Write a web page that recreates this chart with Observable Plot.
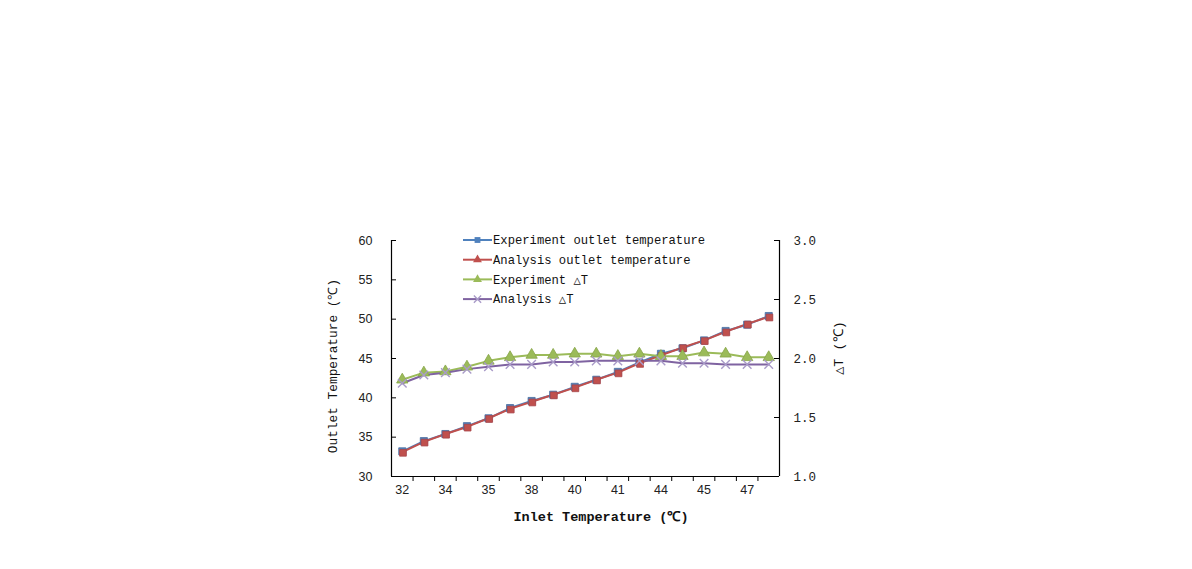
<!DOCTYPE html>
<html><head><meta charset="utf-8">
<script src="https://cdn.jsdelivr.net/npm/d3@7"></script>
<script src="https://cdn.jsdelivr.net/npm/@observablehq/plot@0.6"></script>
<style>body{margin:0;background:#fff}#chart svg{display:block}</style>
</head><body><div id="chart"></div>
<script>
// Inlet temperature tick labels (shown on every other category)
const inletTickLabels = ["32","34","35","38","40","41","44","45","47"];
// Outlet temperature (°C) – left axis
const expOutlet = [33.2,34.5,35.4,36.4,37.4,38.7,39.6,40.4,41.4,42.3,43.3,44.5,45.6,46.3,47.3,48.5,49.3,50.4];
const anaOutlet = [33.1,34.4,35.4,36.3,37.4,38.6,39.5,40.4,41.3,42.3,43.2,44.4,45.4,46.4,47.3,48.4,49.4,50.3];
// Delta T (°C) – right axis
const expDT = [1.82,1.88,1.89,1.93,1.98,2.01,2.03,2.03,2.04,2.04,2.02,2.04,2.02,2.02,2.05,2.04,2.01,2.01];
const anaDT = [1.79,1.86,1.88,1.91,1.93,1.95,1.95,1.97,1.97,1.98,1.98,1.98,1.98,1.96,1.96,1.95,1.95,1.95];
const leftTicks = [30,35,40,45,50,55,60];
const rightTicks = [1.0,1.5,2.0,2.5,3.0];
const seriesNames = ["Experiment outlet temperature","Analysis outlet temperature","Experiment △T","Analysis △T"];
const seriesColors = ["#4F81BD","#C0504D","#9BBB59","#7F63A1"];

const toY = dt => 30 + (dt - 1) * 15;
const fromY = y => (y - 30) / 15 + 1;
const rows = expOutlet.map((v, i) => ({
  i, expOutlet: v, anaOutlet: anaOutlet[i], expDT: toY(expDT[i]), anaDT: toY(anaDT[i])
}));

const sans = "'Liberation Sans', Arial, sans-serif";
const mono = "'Liberation Mono', 'DejaVu Sans Mono', monospace";

const chart = Plot.plot({
  width: 1192, height: 569,
  marginLeft: 391, marginRight: 413, marginTop: 240, marginBottom: 93,
  style: {fontFamily: sans, fontSize: "12px", color: "#222", background: "#fff"},
  x: {type: "linear", domain: [-0.5, 17.5]},
  y: {domain: [30, 60]},
  marks: [
    Plot.axisX(d3.range(0.5, 17, 1), {tickSize: 5, tickFormat: () => "", label: null, stroke: "#000"}),
    Plot.axisX(d3.range(0, 18, 2), {tickSize: 0, tickPadding: 9, tickFormat: i => inletTickLabels[i / 2], label: null, fontSize: 12.5}),
    Plot.axisY(leftTicks, {anchor: "left", tickSize: 0, tickPadding: 19, label: null, fontSize: 12.5}),
    Plot.tickY(leftTicks, {y: d => d, insetRight: 383, stroke: "#000"}),
    Plot.axisY(rightTicks.map(toY), {anchor: "right", tickSize: 0, tickPadding: 14, tickFormat: d => fromY(d).toFixed(1), label: null, fontFamily: mono, fontSize: 12.5}),
    Plot.tickY(rightTicks.map(toY), {y: d => d, insetLeft: 383, stroke: "#000"}),
    Plot.ruleX([-0.5, 17.5], {stroke: "#000", strokeWidth: 1.2}),
    Plot.ruleY([30], {stroke: "#000", strokeWidth: 1.2}),
    Plot.line(rows, {x: "i", y: "expOutlet", stroke: seriesColors[0], strokeWidth: 2}),
    Plot.line(rows, {x: "i", y: "anaOutlet", stroke: seriesColors[1], strokeWidth: 2}),
    Plot.line(rows, {x: "i", y: "expDT", stroke: seriesColors[2], strokeWidth: 2}),
    Plot.line(rows, {x: "i", y: "anaDT", stroke: seriesColors[3], strokeWidth: 2}),
    Plot.dot(rows, {x: "i", y: "expOutlet", symbol: "square", r: 4, fill: seriesColors[0], stroke: "#4a6fa0", strokeWidth: 0.8}),
    Plot.dot(rows, {x: "i", y: "anaOutlet", symbol: "square", r: 3.8, fill: seriesColors[1], stroke: "#a8454a", strokeWidth: 0.8, dx: 0.7, dy: 0.7}),
    Plot.dot(rows, {x: "i", y: "expDT", symbol: "triangle", r: 4.2, fill: seriesColors[2], stroke: "#86a548", strokeWidth: 0.8}),
    Plot.dot(rows, {x: "i", y: "anaDT", symbol: "times", r: 4, stroke: "#a99bc8", strokeWidth: 1.4})
  ]
});
document.getElementById("chart").append(chart);

const svg = d3.select(chart);
// Legend
const symbols = [d3.symbolSquare, d3.symbolTriangle, d3.symbolTriangle, d3.symbolTimes];
const legend = svg.append("g").attr("font-family", mono).attr("font-size", 12.2)
  .attr("fill", "#111").attr("text-anchor", "start");
seriesNames.forEach((name, k) => {
  const y = 240 + k * 19.7;
  const g = legend.append("g").attr("transform", `translate(463,${y})`);
  g.append("line").attr("x1", 0).attr("x2", 29).attr("y1", 0).attr("y2", 0).attr("stroke", seriesColors[k]).attr("stroke-width", 2);
  g.append("path").attr("transform", "translate(14.5,0)")
    .attr("d", d3.symbol(symbols[k], k === 3 ? 36 : 34)())
    .attr("fill", k === 3 ? "none" : seriesColors[k])
    .attr("stroke", k === 3 ? "#a99bc8" : "none").attr("stroke-width", 1.4);
  g.append("text").attr("x", 30).attr("y", 0).attr("dy", "0.35em").attr("text-anchor", "start").text(name);
});
// Axis titles
svg.append("text").attr("transform", "translate(601,516)").attr("text-anchor", "middle")
  .attr("dy", "0.35em").attr("font-family", mono).attr("font-weight", "bold").attr("font-size", 13.5).attr("fill", "#111")
  .text("Inlet Temperature (℃)");
svg.append("text").attr("transform", "translate(333,366) rotate(-90)").attr("text-anchor", "middle")
  .attr("dy", "0.35em").attr("font-family", mono).attr("font-size", 12.8).attr("fill", "#111")
  .text("Outlet Temperature (℃)");
svg.append("text").attr("transform", "translate(838,348) rotate(-90)").attr("text-anchor", "middle")
  .attr("dy", "0.35em").attr("font-family", mono).attr("font-size", 13.5).attr("fill", "#111")
  .text("△T (℃)");
</script>
</body></html>
